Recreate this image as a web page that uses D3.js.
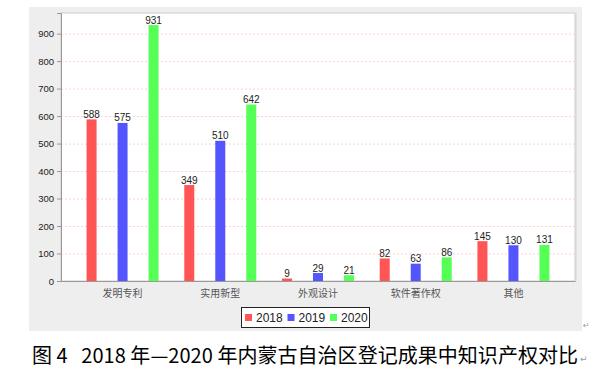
<!DOCTYPE html>
<html>
<head>
<meta charset="utf-8">
<script src="https://cdn.jsdelivr.net/npm/d3@7"></script>
<style>
  body { margin: 0; background: #fff; }
  svg { display: block; }
</style>
</head>
<body>
<div id="chart"></div>
<script>
///////////////////// Data ////////////////////////
var categories = ["发明专利", "实用新型", "外观设计", "软件著作权", "其他"];
var years = ["2018", "2019", "2020"];
var v2018 = [588, 349, 9, 82, 145];
var v2019 = [575, 510, 29, 63, 130];
var v2020 = [931, 642, 21, 86, 131];
var yTicks = [0, 100, 200, 300, 400, 500, 600, 700, 800, 900];
var caption = "图 4\u00a0\u00a0 2018 年—2020 年内蒙古自治区登记成果中知识产权对比";
///////////////////////////////////////////////////

var series = [v2018, v2019, v2020];
var colors = ["#ff5555", "#5555ff", "#55ff55"];

var width = 614, height = 389;
var plot = {left: 61, right: 575, top: 13, bottom: 281};

var svg = d3.select("#chart").append("svg")
    .attr("width", width)
    .attr("height", height);

// gray chart background
svg.append("rect")
    .attr("x", 29).attr("y", 7)
    .attr("width", 553).attr("height", 324)
    .attr("fill", "#eeeeee");

// plot area
svg.append("rect")
    .attr("x", plot.left).attr("y", plot.top)
    .attr("width", plot.right - plot.left).attr("height", plot.bottom - plot.top)
    .attr("fill", "#fff")
    .attr("stroke", "#cccccc");
svg.append("line")
    .attr("x1", plot.right + 1).attr("x2", plot.right + 1)
    .attr("y1", plot.top).attr("y2", plot.bottom)
    .attr("stroke", "#d4d4d4");

var x0 = d3.scaleBand()
    .domain(categories)
    .range([plot.left, plot.right])
    .paddingOuter(0.13);

var x1 = d3.scalePoint()
    .domain(years)
    .range([-31, 31]);

var y = d3.scaleLinear()
    .domain([0, 975])
    .range([plot.bottom, plot.top]);

// gridlines
svg.append("g").selectAll("line")
    .data(yTicks.filter(function (d) { return d > 0; }))
    .enter().append("line")
    .attr("x1", plot.left).attr("x2", plot.right)
    .attr("y1", function (d) { return y(d) + 0.5; })
    .attr("y2", function (d) { return y(d) + 0.5; })
    .attr("stroke", "#ffd0d0")
    .attr("stroke-dasharray", "2,2");

// y axis
var yAxis = svg.append("g")
    .attr("transform", "translate(" + plot.left + ",0)")
    .call(d3.axisLeft(y).tickValues(yTicks).tickSize(4).tickPadding(3));
yAxis.select(".domain").attr("stroke", "#999");
yAxis.selectAll(".tick line").attr("stroke", "#999");
yAxis.selectAll("text")
    .attr("fill", "#222")
    .style("font-family", "'Liberation Sans', Arial, sans-serif")
    .style("font-size", "9.5px");

// x axis
var xAxis = svg.append("g")
    .attr("transform", "translate(0," + plot.bottom + ")")
    .call(d3.axisBottom(x0).tickSize(0).tickPadding(9));
xAxis.select(".domain").attr("stroke", "#999");
xAxis.selectAll("text")
    .attr("fill", "#555")
    .style("font-family", "'Noto Sans CJK SC', sans-serif")
    .style("font-size", "10px");

// bars
var barW = 10;
series.forEach(function (vals, si) {
    var g = svg.append("g");
    g.selectAll("rect")
        .data(vals)
        .enter().append("rect")
        .attr("x", function (d, i) { return x0(categories[i]) + x0.bandwidth() / 2 + x1(years[si]) - barW / 2; })
        .attr("y", function (d) { return y(d); })
        .attr("width", barW)
        .attr("height", function (d) { return y(0) - y(d); })
        .attr("fill", colors[si]);
    g.selectAll("text")
        .data(vals)
        .enter().append("text")
        .attr("x", function (d, i) { return x0(categories[i]) + x0.bandwidth() / 2 + x1(years[si]); })
        .attr("y", function (d) { return y(d) - 1.5; })
        .attr("text-anchor", "middle")
        .style("font-family", "'Liberation Sans', Arial, sans-serif")
        .style("font-size", "10px")
        .attr("fill", "#222")
        .text(function (d) { return d; });
});

// legend
var legend = svg.append("g");
legend.append("rect")
    .attr("x", 241.5).attr("y", 307.5)
    .attr("width", 128).attr("height", 20)
    .attr("fill", "#fff")
    .attr("stroke", "#222");
var legendX = [245, 287.5, 330];
years.forEach(function (yr, i) {
    legend.append("rect")
        .attr("x", legendX[i]).attr("y", 314)
        .attr("width", 7).attr("height", 7)
        .attr("fill", colors[i]);
    legend.append("text")
        .attr("x", legendX[i] + 11).attr("y", 322)
        .style("font-family", "'Liberation Sans', Arial, sans-serif")
        .style("font-size", "12px")
        .attr("fill", "#222")
        .text(yr);
});

// paragraph marks
svg.append("text")
    .attr("x", 583).attr("y", 328)
    .style("font-family", "'DejaVu Sans', sans-serif")
    .style("font-size", "8px")
    .attr("fill", "#999")
    .text("↵");

// caption
svg.append("text")
    .attr("x", 32).attr("y", 363)
    .attr("textLength", 546)
    .attr("lengthAdjust", "spacing")
    .style("font-family", "'Noto Sans CJK SC', sans-serif")
    .style("font-size", "20px")
    .attr("fill", "#000")
    .text(caption);
svg.append("text")
    .attr("x", 580).attr("y", 362)
    .style("font-family", "'DejaVu Sans', sans-serif")
    .style("font-size", "9px")
    .attr("fill", "#999")
    .text("↵");
</script>
</body>
</html>
